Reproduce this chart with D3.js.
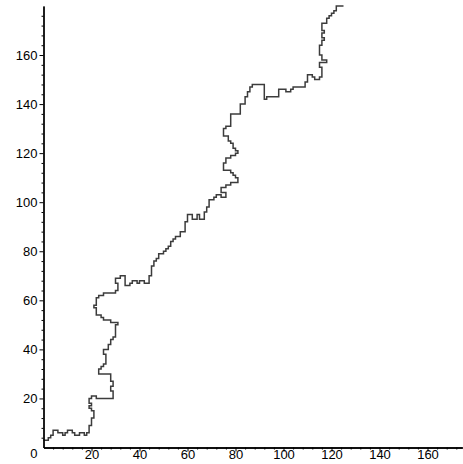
<!DOCTYPE html>
<html><head><meta charset="utf-8">
<script src="https://cdn.jsdelivr.net/npm/d3@7"></script>
<style>body{margin:0;background:#fff}svg{display:block}</style>
</head><body>
<svg id="c" width="463" height="464"></svg>
<script>
const pathX = [0,2,2,3,3,4,4,6,6,8,8,9,9,10,10,12,12,13,13,15,15,17,17,18,18,19,
19,20,20,21,21,20,20,19,19,20,20,19,19,20,20,22,22,29,
29,28,28,29,29,28,28,23,23,24,24,25,25,26,26,25,25,27,27,28,28,29,29,30,30,31,31,
28,28,25,25,24,24,22,22,21,21,22,22,23,23,25,25,30,30,31,31,30,30,32,32,34,34,36,36,37,37,39,39,40,40,42,42,44,44,45,45,46,46,47,47,48,48,50,50,51,51,52,52,53,53,54,54,55,55,57,57,59,59,60,60,62,62,64,64,65,65,67,67,68,68,69,69,71,71,72,72,74,74,76,76,74,74,76,76,78,78,81,81,80,80,79,79,78,78,75,75,76,76,78,78,80,80,81,81,80,80,79,79,78,78,77,77,75,75,76,76,78,78,82,82,84,84,85,85,86,86,87,87,92,92,93,93,98,98,101,101,103,103,104,104,109,109,110,110,112,112,113,113,115,115,116,116,115,115,118,118,116,116,115,115,116,116,117,117,116,116,117,117,116,116,118,118,119,119,120,120,121,121,122,122,125];
const pathY = [3,3,4,4,5,5,7,7,6,6,5,5,6,6,7,7,6,6,5,5,6,6,5,5,6,6,
9,9,12,12,15,15,16,16,17,17,18,18,20,20,21,21,20,20,
23,23,25,25,27,27,30,30,32,32,33,33,34,34,38,38,40,40,42,42,44,44,45,45,50,50,51,
51,52,52,53,53,54,54,57,57,58,58,61,61,62,62,63,63,64,64,67,67,69,69,70,70,66,66,67,67,68,68,67,67,68,68,67,67,70,70,74,74,76,76,77,77,79,79,80,80,81,81,82,82,84,84,85,85,86,86,88,88,92,92,95,95,93,93,95,95,93,93,96,96,98,98,101,101,102,102,103,103,102,102,104,104,106,106,107,107,108,108,110,110,111,111,112,112,113,113,116,116,118,118,119,119,120,120,121,121,122,122,124,124,125,125,127,127,130,130,131,131,136,136,140,140,143,143,145,145,147,147,148,148,142,142,143,143,146,146,145,145,146,146,147,147,149,149,152,152,151,151,150,150,151,151,155,155,157,157,158,158,160,160,164,164,166,166,167,167,169,169,170,170,173,173,175,175,176,176,177,177,178,178,180,180];
const xTickLabels = [20,40,60,80,100,120,140,160];
const yTickLabels = [20,40,60,80,100,120,140,160];
const xMax = 174.5, yMax = 180;

const svg = d3.select("#c");
const x = d3.scaleLinear().domain([0, xMax]).range([43.5, 43.5 + xMax * 2.4]);
const y = d3.scaleLinear().domain([0, yMax]).range([447.5, 447.5 - yMax * 2.453]);

const pts = pathX.map((v, i) => [v, pathY[i]]);
const line = d3.line().x(d => x(d[0])).y(d => y(d[1])).curve(d3.curveStepAfter);
svg.append("path").attr("d", line(pts)).attr("fill", "none")
  .attr("stroke", "#3c3c3c").attr("stroke-width", 1.5).attr("stroke-linejoin", "miter");

const font = "'Liberation Sans', Arial, sans-serif";
// axes
const minorX = d3.range(4, xMax, 4).filter(v => v % 20 !== 0);
const minorY = d3.range(4, yMax, 4).filter(v => v % 20 !== 0);
const xAxisMajor = d3.axisBottom(x).tickValues(xTickLabels).tickSize(4).tickSizeOuter(0).tickFormat(d3.format("d"));
const xAxisMinor = d3.axisBottom(x).tickValues(minorX).tickSize(2).tickSizeOuter(0).tickFormat("");
const yAxisMajor = d3.axisLeft(y).tickValues(yTickLabels).tickSize(4).tickSizeOuter(0).tickFormat(d3.format("d"));
const yAxisMinor = d3.axisLeft(y).tickValues(minorY).tickSize(2).tickSizeOuter(0).tickFormat("");

function style(g){
  g.select(".domain").attr("stroke", "#000").attr("stroke-width", 1.3);
  g.selectAll(".tick line").attr("stroke", "#000").attr("stroke-width", 1);
  g.selectAll("text").attr("font-family", font).attr("font-size", 13).attr("fill", "#000");
}
const gxm = svg.append("g").attr("transform", `translate(0,${y(0)})`).call(xAxisMinor); style(gxm);
const gx = svg.append("g").attr("transform", `translate(0,${y(0)})`).call(xAxisMajor); style(gx);
gx.selectAll("text").attr("dy", "0.55em").attr("y", 4);
const gym = svg.append("g").attr("transform", `translate(${x(0)},0)`).call(yAxisMinor); style(gym);
const gy = svg.append("g").attr("transform", `translate(${x(0)},0)`).call(yAxisMajor); style(gy);
gy.selectAll("text").attr("x", -6);
svg.append("text").attr("x", x(0) - 6).attr("y", y(0) + 10).attr("text-anchor", "end")
  .attr("font-family", font).attr("font-size", 13).text("0");
</script>
</body></html>
